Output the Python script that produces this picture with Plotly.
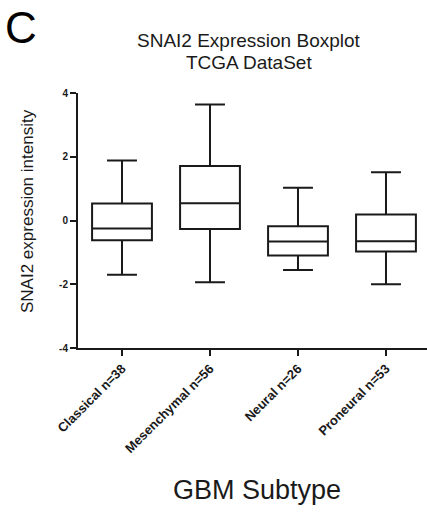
import plotly.graph_objects as go

categories = ["Classical n=38", "Mesenchymal n=56", "Neural n=26", "Proneural n=53"]
lower_whisker = [-1.70, -1.94, -1.55, -2.00]
q1_values = [-0.62, -0.27, -1.10, -0.97]
median_values = [-0.25, 0.54, -0.66, -0.65]
q3_values = [0.53, 1.71, -0.18, 0.19]
upper_whisker = [1.88, 3.64, 1.03, 1.51]
y_ticks = [-4, -2, 0, 2, 4]

FONT = "Liberation Sans, Arial, sans-serif"
INK = "#1a1a1a"

fig = go.Figure()
fig.add_trace(go.Box(
    x=categories,
    q1=q1_values,
    median=median_values,
    q3=q3_values,
    lowerfence=lower_whisker,
    upperfence=upper_whisker,
    width=0.68,
    whiskerwidth=0.5,
    fillcolor="rgba(0,0,0,0)",
    line=dict(color=INK, width=2),
    boxpoints=False,
    hoverinfo="skip",
    showlegend=False,
))

W, H = 427, 512
ml, mr, mt, mb = 78, 0, 93, 164
pw = W - ml - mr
ph = H - mt - mb

def px(x):
    return (x - ml) / pw

def py(y):
    return (H - mb - y) / ph

fig.update_layout(
    width=W, height=H,
    margin=dict(l=ml, r=mr, t=mt, b=mb, pad=0),
    paper_bgcolor="white", plot_bgcolor="white",
    font=dict(family=FONT, color=INK),
    xaxis=dict(
        type="category",
        range=[-0.5, 3.466],
        showgrid=False, zeroline=False,
        showline=True, linecolor=INK, linewidth=2,
        ticks="outside", ticklen=6, tickwidth=2, tickcolor=INK,
        tickangle=-45,
        tickfont=dict(family=FONT, size=13, color=INK, weight="bold"),
    ),
    yaxis=dict(
        range=[-4, 4],
        tickvals=y_ticks,
        ticktext=[str(v) for v in y_ticks],
        showgrid=False, zeroline=False,
        showline=True, linecolor=INK, linewidth=2,
        ticks="outside", ticklen=6, tickwidth=2, tickcolor=INK,
        tickfont=dict(family=FONT, size=10, color=INK, weight="bold"),
    ),
    annotations=[
        dict(text="C", x=px(21), y=py(27), xref="paper", yref="paper",
             showarrow=False, font=dict(family=FONT, size=44, color="black"),
             xanchor="center", yanchor="middle"),
        dict(text="SNAI2 Expression Boxplot", x=px(249), y=py(40), xref="paper", yref="paper",
             showarrow=False, font=dict(family=FONT, size=19, color=INK),
             xanchor="center", yanchor="middle"),
        dict(text="TCGA DataSet", x=px(249), y=py(63), xref="paper", yref="paper",
             showarrow=False, font=dict(family=FONT, size=19, color=INK),
             xanchor="center", yanchor="middle"),
        dict(text="SNAI2 expression intensity", x=px(27), y=py(211), xref="paper", yref="paper",
             showarrow=False, textangle=-90, font=dict(family=FONT, size=17, color=INK),
             xanchor="center", yanchor="middle"),
        dict(text="GBM Subtype", x=px(257), y=py(490), xref="paper", yref="paper",
             showarrow=False, font=dict(family=FONT, size=27, color=INK),
             xanchor="center", yanchor="middle"),
    ],
)

fig.write_html("out.html", config={"displayModeBar": False},
               post_script="document.body.style.margin='0';")
